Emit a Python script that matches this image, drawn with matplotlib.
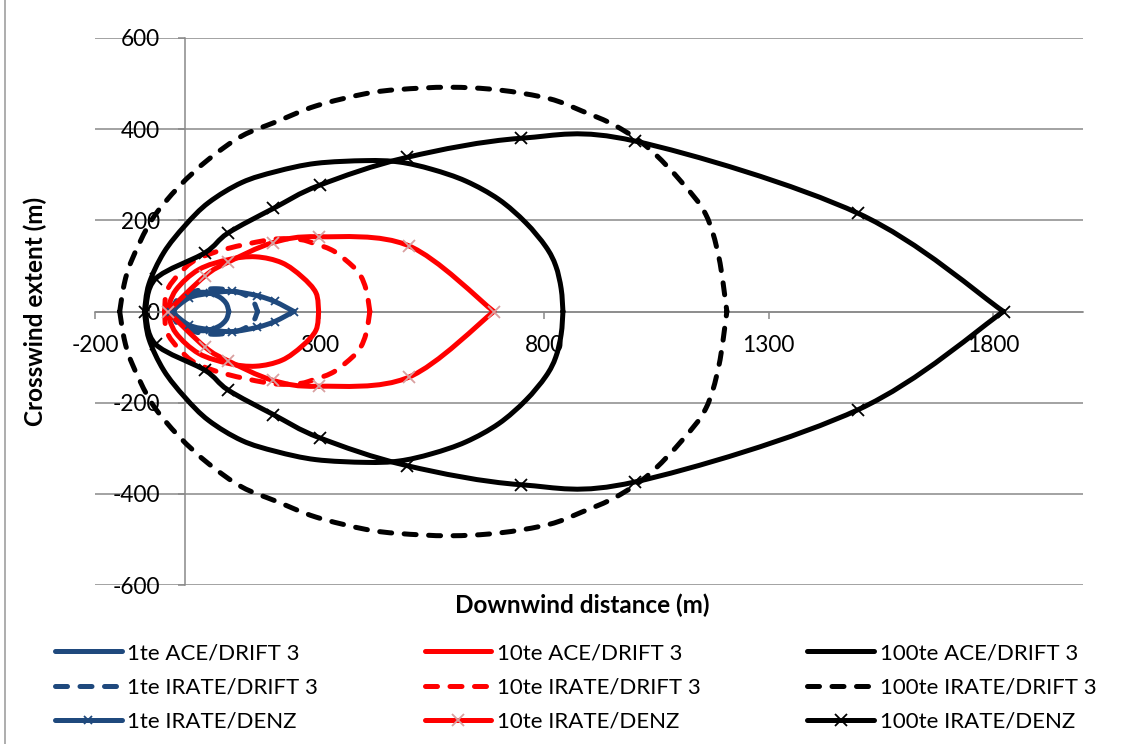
import matplotlib
matplotlib.use("Agg")
import matplotlib.pyplot as plt
import numpy as np
from matplotlib.path import Path
from matplotlib.patches import PathPatch, Rectangle
from matplotlib.lines import Line2D

plt.rcParams["font.family"] = ["Lato", "DejaVu Sans"]
plt.rcParams["axes.unicode_minus"] = False

BLUE, RED, BLACK = "#1F497D", "#FF0000", "#000000"
PINK = "#D9A0A0"
GRID = "#898989"

# upper halves (lower half is the mirror image), downwind x / crosswind y in m
b1_ace_x = [-25, -10, 15, 45, 75, 92, 98]
b1_ace_y = [0, 24, 38, 42, 33, 18, 0]
b1_irate_x = [-30, -15, 20, 70, 120, 150, 162]
b1_irate_y = [0, 28, 44, 50, 42, 25, 0]
b1_denz_x = [-30, 10, 57, 105, 160, 200, 243]
b1_denz_y = [0, 30, 40, 44, 35, 22, 0]

t10_ace_x = [-40, -20, 31, 98, 158, 216, 261, 292, 298]
t10_ace_y = [0, 47, 92, 114, 120, 107, 76, 41, 0]
t10_irate_x = [-45, -40, -13, 24, 91, 194, 254, 283, 327, 358, 388, 404, 412]
t10_irate_y = [0, 45, 82, 113, 137, 158, 158, 151, 135, 113, 84, 47, 0]
t10_denz_x = [-38, 45, 96, 196, 298, 499, 688]
t10_denz_y = [0, 78, 108, 151, 164, 144, 0]

t100_ace_x = [-90, -80, -47, 0, 53, 127, 203, 292, 403, 477, 550, 626, 699,
              759, 804, 826, 838, 842]
t100_ace_y = [0, 60, 129, 188, 239, 283, 307, 325, 331, 328, 312, 286, 246,
              195, 142, 100, 50, 0]
t100_irate_x = [-145, -135, -118, -73, -13, 53, 127, 203, 292, 403, 477, 588,
                699, 811, 884, 960, 1033, 1107, 1160, 1189, 1207]
t100_irate_y = [0, 60, 113, 202, 274, 334, 385, 416, 451, 478, 487, 492,
                486, 467, 440, 407, 358, 283, 213, 120, 0]
t100_denz_x = [-88, -65, 45, 96, 197, 300, 494, 748, 1002, 1500, 1823]
t100_denz_y = [0, 72, 129, 172, 226, 277, 338, 380, 374, 215, 0]


def smooth(xs, ys):
    """Excel-like smoothed line: cubic Bezier with Catmull-Rom control points."""
    p = np.column_stack([xs, ys]).astype(float)
    n = len(p)
    verts, codes = [p[0]], [Path.MOVETO]
    for i in range(n - 1):
        a = p[i - 1] if i > 0 else p[i]
        d = p[i + 2] if i + 2 < n else p[i + 1]
        c1 = p[i] + (p[i + 1] - a) / 6
        c2 = p[i + 1] - (d - p[i]) / 6
        verts += [c1, c2, p[i + 1]]
        codes += [Path.CURVE4] * 3
    return verts, codes


def draw(ax, xs, ys, color, ls="-", marker=None, mcolor=None, ms=8, lw=3.6):
    xs, ys = np.asarray(xs), np.asarray(ys)
    v1, c1 = smooth(xs, ys)
    v2, c2 = smooth(xs, -ys)
    patch = PathPatch(Path(v1 + v2, c1 + c2), fill=False, edgecolor=color,
                      lw=lw, capstyle="round", joinstyle="round", zorder=3)
    if ls == "--":
        patch.set_linestyle((0, (2.4, 2.5)))
    ax.add_patch(patch)
    if marker:
        ax.plot(np.r_[xs, xs[1:-1]], np.r_[ys, -ys[1:-1]], ls="none",
                marker=marker, color=mcolor, ms=ms, mew=1.3, zorder=4)
    return Line2D([], [], color=color, lw=lw, ls=ls, marker=marker,
                  mec=mcolor, ms=ms, mew=1.3, dash_capstyle="round",
                  solid_capstyle="round",
                  dashes=(2.4, 2.5) if ls == "--" else (None, None))


fig = plt.figure(figsize=(11.36, 7.44), dpi=100)
ax = fig.add_axes([95 / 1136, 1 - 585 / 744, (1083 - 95) / 1136, (585 - 38) / 744])
ax.set_xlim(-200, 2000)
ax.set_ylim(-600, 600)

series = [
    ("1te ACE/DRIFT 3", b1_ace_x, b1_ace_y, BLUE, "-", None, None, 8),
    ("1te IRATE/DRIFT 3", b1_irate_x, b1_irate_y, BLUE, "--", None, None, 8),
    ("1te IRATE/DENZ", b1_denz_x, b1_denz_y, BLUE, "-", "x", BLUE, 6),
    ("10te ACE/DRIFT 3", t10_ace_x, t10_ace_y, RED, "-", None, None, 8),
    ("10te IRATE/DRIFT 3", t10_irate_x, t10_irate_y, RED, "--", None, None, 8),
    ("10te IRATE/DENZ", t10_denz_x, t10_denz_y, RED, "-", "x", PINK, 9),
    ("100te ACE/DRIFT 3", t100_ace_x, t100_ace_y, BLACK, "-", None, None, 8),
    ("100te IRATE/DRIFT 3", t100_irate_x, t100_irate_y, BLACK, "--", None, None, 8),
    ("100te IRATE/DENZ", t100_denz_x, t100_denz_y, BLACK, "-", "x", BLACK, 9),
]
handles, labels = [], []
for name, xs, ys, col, ls, mk, mcol, ms in series:
    handles.append(draw(ax, xs, ys, col, ls, mk, mcol, ms))
    labels.append(name)

for side in ("top", "right"):
    ax.spines[side].set_visible(False)
for side in ("left", "bottom"):
    ax.spines[side].set_position(("data", 0))
    ax.spines[side].set_color(GRID)
    ax.spines[side].set_linewidth(1.1)
ax.set_xticks([-200, 300, 800, 1300, 1800])
ax.set_yticks(range(-600, 601, 200))
ax.tick_params(axis="both", direction="out", length=5, width=1.1, color=GRID,
               labelsize=16.3, labelcolor="black")
ax.tick_params(axis="y", pad=13)
ax.tick_params(axis="x", pad=12)
ax.yaxis.grid(True, color=GRID, lw=1.1)
ax.set_axisbelow(True)

fig.text(582 / 1136, 1 - 605 / 744, "Downwind distance (m)", ha="center",
         va="center", fontsize=17.5, fontweight="bold")
fig.text(35 / 1136, 1 - 311 / 744, "Crosswind extent (m)", ha="center",
         va="center", rotation=90, fontsize=17.5, fontweight="bold")

fig.legend(handles, labels, ncol=3, loc="upper left", frameon=False,
           bbox_to_anchor=(55 / 1136, 1 - 643 / 744), fontsize=16,
           handlelength=3.0, handletextpad=0.25, columnspacing=4.8,
           labelspacing=0.65, borderpad=0, borderaxespad=0, numpoints=1)

fig.add_artist(Rectangle((5 / 1136, -0.01), 1.2, 1.2, transform=fig.transFigure,
                         fill=False, edgecolor="#A0A0A0", lw=1.2))

fig.savefig("out.png", dpi=100)
